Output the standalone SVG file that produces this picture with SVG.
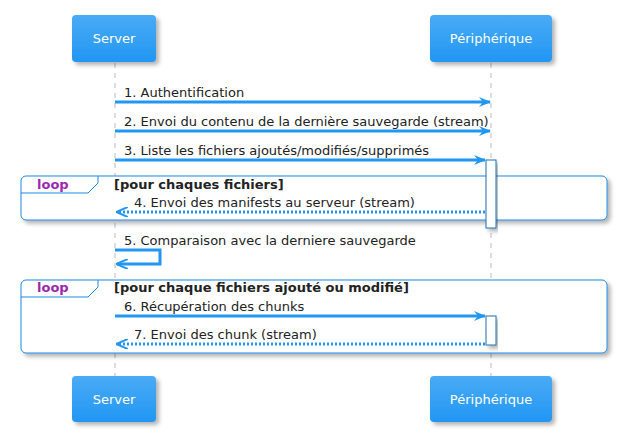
<svg xmlns="http://www.w3.org/2000/svg" width="627" height="442" viewBox="0 0 627 442">
<defs>
<linearGradient id="g" x1="0" y1="0" x2="0" y2="1"><stop offset="0" stop-color="#4AABF5"/><stop offset="1" stop-color="#2196F3"/></linearGradient>
<filter id="sh" x="-10%" y="-10%" width="130%" height="140%"><feDropShadow dx="3" dy="3" stdDeviation="2" flood-color="#000" flood-opacity="0.3"/></filter>
<marker id="a" markerWidth="12" markerHeight="10" refX="11" refY="5" orient="auto" markerUnits="userSpaceOnUse"><path d="M0,0 L12,5 L0,10 L4,5 Z" fill="#2196F3"/></marker>
<marker id="o" markerWidth="12" markerHeight="10" refX="11" refY="5" orient="auto" markerUnits="userSpaceOnUse"><path d="M0,0 L12,5 L0,10" fill="none" stroke="#2196F3" stroke-width="2"/></marker>
</defs>
<style>
text{font-family:"DejaVu Sans",sans-serif;font-size:13px;fill:#222}
.p{fill:url(#g);filter:url(#sh)}
.pt{fill:#fff;text-anchor:middle}
.ll{stroke:#bbb;stroke-dasharray:5,5}
.m{stroke:#2196F3;stroke-width:3;fill:none}
.d{stroke:#2196F3;stroke-width:3;fill:none;stroke-dasharray:2,2}
.f{fill:#fff;stroke:#1E88E5;stroke-width:1}
.lb{fill:#9C27B0;font-weight:bold}
.b{font-weight:bold}
.act{fill:#fff;stroke:#1E6FB0;filter:url(#sh)}
</style>
<g id="lifelines"><line class="ll" x1="115" y1="63" x2="115" y2="376"/><line class="ll" x1="491" y1="63" x2="491" y2="376"/></g>
<g id="loop1"><rect class="f" x="21" y="176" width="586" height="44" rx="5" filter="url(#sh)"/><path d="M21,193 H88 L98,183 V176" fill="none" stroke="#1E88E5"/><text class="lb" x="37" y="189">loop</text><text class="b" x="114" y="189">[pour chaques fichiers]</text></g>
<g id="loop2"><rect class="f" x="21" y="280" width="586" height="73" rx="5" filter="url(#sh)"/><path d="M21,297 H88 L98,287 V280" fill="none" stroke="#1E88E5"/><text class="lb" x="37" y="292">loop</text><text class="b" x="114" y="292">[pour chaque fichiers ajouté ou modifié]</text></g>
<g id="activations"><rect class="act" x="486" y="160" width="10" height="68"/><rect class="act" x="486" y="316" width="10" height="29"/></g>
<g id="server"><rect class="p" x="72" y="15" width="84" height="47" rx="4"/><text class="pt" x="114" y="43">Server</text></g>
<g id="peripherique"><rect class="p" x="430" y="15" width="122" height="47" rx="4"/><text class="pt" x="491" y="43">Périphérique</text></g>
<g id="server2"><rect class="p" x="72" y="376" width="84" height="46" rx="4"/><text class="pt" x="114" y="404">Server</text></g>
<g id="peripherique2"><rect class="p" x="430" y="376" width="122" height="46" rx="4"/><text class="pt" x="491" y="404">Périphérique</text></g>
<g id="connectors">
<line class="m" x1="115" y1="102" x2="490" y2="102" marker-end="url(#a)"/><text x="124" y="97">1. Authentification</text>
<line class="m" x1="115" y1="131" x2="490" y2="131" marker-end="url(#a)"/><text x="124" y="126">2. Envoi du contenu de la dernière sauvegarde (stream)</text>
<line class="m" x1="115" y1="160" x2="485" y2="160" marker-end="url(#a)"/><text x="124" y="155">3. Liste les fichiers ajoutés/modifiés/supprimés</text>
<line class="d" x1="485" y1="212" x2="117" y2="212" marker-end="url(#o)"/><text x="134" y="207">4. Envoi des manifests au serveur (stream)</text>
<path class="m" d="M115,250 H160 V264 H117" marker-end="url(#o)"/><text x="124" y="245">5. Comparaison avec la derniere sauvegarde</text>
<line class="m" x1="115" y1="316" x2="485" y2="316" marker-end="url(#a)"/><text x="124" y="311">6. Récupération des chunks</text>
<line class="d" x1="485" y1="344" x2="117" y2="344" marker-end="url(#o)"/><text x="134" y="339">7. Envoi des chunk (stream)</text>
</g>
</svg>
